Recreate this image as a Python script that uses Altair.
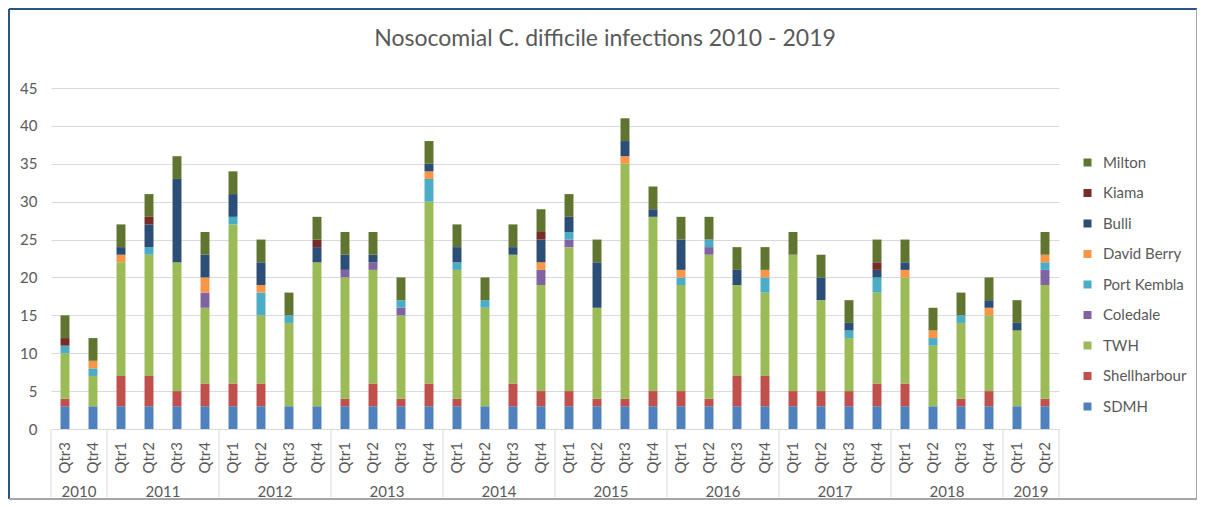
import altair as alt
import pandas as pd

# ---- categories ----
bar_years = ["2010", "2010",
             "2011", "2011", "2011", "2011",
             "2012", "2012", "2012", "2012",
             "2013", "2013", "2013", "2013",
             "2014", "2014", "2014", "2014",
             "2015", "2015", "2015", "2015",
             "2016", "2016", "2016", "2016",
             "2017", "2017", "2017", "2017",
             "2018", "2018", "2018", "2018",
             "2019", "2019"]
bar_quarters = ["Qtr3", "Qtr4",
                "Qtr1", "Qtr2", "Qtr3", "Qtr4",
                "Qtr1", "Qtr2", "Qtr3", "Qtr4",
                "Qtr1", "Qtr2", "Qtr3", "Qtr4",
                "Qtr1", "Qtr2", "Qtr3", "Qtr4",
                "Qtr1", "Qtr2", "Qtr3", "Qtr4",
                "Qtr1", "Qtr2", "Qtr3", "Qtr4",
                "Qtr1", "Qtr2", "Qtr3", "Qtr4",
                "Qtr1", "Qtr2", "Qtr3", "Qtr4",
                "Qtr1", "Qtr2"]

# ---- series (bottom to top of each stack) ----
SDMH =         [3, 3, 3, 3, 3, 3, 3, 3, 3, 3, 3, 3, 3, 3, 3, 3, 3, 3, 3, 3, 3, 3, 3, 3, 3, 3, 3, 3, 3, 3, 3, 3, 3, 3, 3, 3]
Shellharbour = [1, 0, 4, 4, 2, 3, 3, 3, 0, 0, 1, 3, 1, 3, 1, 0, 3, 2, 2, 1, 1, 2, 2, 1, 4, 4, 2, 2, 2, 3, 3, 0, 1, 2, 0, 1]
TWH =          [6, 4, 15, 16, 17, 10, 21, 9, 11, 19, 16, 15, 11, 24, 17, 13, 17, 14, 19, 12, 31, 23, 14, 19, 12, 11, 18, 12, 7, 12, 14, 8, 10, 10, 10, 15]
Coledale =     [0, 0, 0, 0, 0, 2, 0, 0, 0, 0, 1, 1, 1, 0, 0, 0, 0, 2, 1, 0, 0, 0, 0, 1, 0, 0, 0, 0, 0, 0, 0, 0, 0, 0, 0, 2]
PortKembla =   [1, 1, 0, 1, 0, 0, 1, 3, 1, 0, 0, 0, 1, 3, 1, 1, 0, 0, 1, 0, 0, 0, 1, 1, 0, 2, 0, 0, 1, 2, 0, 1, 1, 0, 0, 1]
DavidBerry =   [0, 1, 1, 0, 0, 2, 0, 1, 0, 0, 0, 0, 0, 1, 0, 0, 0, 1, 0, 0, 1, 0, 1, 0, 0, 1, 0, 0, 0, 0, 1, 1, 0, 1, 0, 1]
Bulli =        [0, 0, 1, 3, 11, 3, 3, 3, 0, 2, 2, 1, 0, 1, 2, 0, 1, 3, 2, 6, 2, 1, 4, 0, 2, 0, 0, 3, 1, 1, 1, 0, 0, 1, 1, 0]
Kiama =        [1, 0, 0, 1, 0, 0, 0, 0, 0, 1, 0, 0, 0, 0, 0, 0, 0, 1, 0, 0, 0, 0, 0, 0, 0, 0, 0, 0, 0, 1, 0, 0, 0, 0, 0, 0]
Milton =       [3, 3, 3, 3, 3, 3, 3, 3, 3, 3, 3, 3, 3, 3, 3, 3, 3, 3, 3, 3, 3, 3, 3, 3, 3, 3, 3, 3, 3, 3, 3, 3, 3, 3, 3, 3]

series_names = ["SDMH", "Shellharbour", "TWH", "Coledale", "Port Kembla",
                "David Berry", "Bulli", "Kiama", "Milton"]
series_values = [SDMH, Shellharbour, TWH, Coledale, PortKembla,
                 DavidBerry, Bulli, Kiama, Milton]
series_colors = ["#4F81BD", "#C0504D", "#9BBB59", "#8064A2", "#4BACC6",
                 "#F79646", "#2C4D75", "#772C2A", "#5F7530"]

# ---- tables built from the lists ----
rows = []
for order, (name, vals) in enumerate(zip(series_names, series_values)):
    for i, v in enumerate(vals):
        rows.append({"idx": i, "series": name, "order": order, "value": v})
df = pd.DataFrame(rows)

df_q = pd.DataFrame({"idx": list(range(len(bar_quarters))), "quarter": bar_quarters, "year": bar_years})

year_list = []
for y in bar_years:
    if y not in year_list:
        year_list.append(y)
df_y = pd.DataFrame({
    "year": year_list,
    "start": [bar_years.index(y) for y in year_list],
    "end": [len(bar_years) - bar_years[::-1].index(y) for y in year_list],
})
df_y["mid"] = (df_y["start"] + df_y["end"]) / 2
df_sep = pd.DataFrame({"b": sorted(set(df_y["start"].tolist() + df_y["end"].tolist()))})

W, H = 1008, 341
FONT = "Lato"
GREY = "#595959"
LINE = "#D9D9D9"

xscale = alt.Scale(domain=[0, len(bar_quarters)], nice=False, zero=False)
yscale = alt.Scale(domain=[0, 45], nice=False)

legend_order = series_names[::-1]
legend_colors = series_colors[::-1]

bars = (
    alt.Chart(df)
    .transform_filter("datum.value > 0")
    .transform_stack(stack="value", groupby=["idx"], as_=["y0", "y1"],
                     sort=[alt.SortField("order", "ascending")])
    .transform_calculate(xa="datum.idx + 0.34", xb="datum.idx + 0.66")
    .mark_bar()
    .encode(
        x=alt.X("xa:Q", scale=xscale,
                axis=alt.Axis(labels=False, ticks=False, grid=False, domain=True,
                              domainColor=LINE, domainWidth=1, title=None)),
        x2="xb:Q",
        y=alt.Y("y0:Q", scale=yscale,
                axis=alt.Axis(values=list(range(0, 50, 5)), grid=True, gridColor=LINE,
                              gridWidth=1, domain=False, ticks=False, labelPadding=14,
                              labelFont=FONT, labelFontSize=15, labelColor=GREY, title=None)),
        y2="y1:Q",
        color=alt.Color("series:N",
                        scale=alt.Scale(domain=legend_order, range=legend_colors),
                        legend=alt.Legend(title=None, orient="none", legendX=1029, legendY=67,
                                          symbolType="square", symbolSize=64,
                                          symbolStrokeWidth=0, labelFont=FONT,
                                          labelFontSize=15, labelColor=GREY,
                                          labelOffset=8, rowPadding=14.5, padding=0)),
    )
)

qlabels = (
    alt.Chart(df_q)
    .transform_calculate(xc="datum.idx + 0.5")
    .mark_text(angle=270, align="right", baseline="middle", font=FONT, fontSize=15, color=GREY)
    .encode(x=alt.X("xc:Q", scale=xscale), y=alt.value(H + 13), text="quarter:N")
)

ylabels = (
    alt.Chart(df_y)
    .mark_text(align="center", baseline="middle", font=FONT, fontSize=15, color=GREY)
    .encode(x=alt.X("mid:Q", scale=xscale), y=alt.value(H + 63), text="year:N")
)

seps = (
    alt.Chart(df_sep)
    .mark_rule(color=LINE, strokeWidth=1)
    .encode(x=alt.X("b:Q", scale=xscale), y=alt.value(H), y2=alt.value(H + 68))
)

one = pd.DataFrame({"f": [0]})
L, T, R, B = -42, -79, 1146, H + 70
frame_top = alt.Chart(one).mark_rule(color="#2B5585", strokeWidth=2).encode(
    x=alt.value(L), x2=alt.value(R), y=alt.value(T))
frame_left = alt.Chart(one).mark_rule(color="#2B5585", strokeWidth=2).encode(
    x=alt.value(L), y=alt.value(T), y2=alt.value(B))
frame_right = alt.Chart(one).mark_rule(color="#A6A6A6", strokeWidth=2).encode(
    x=alt.value(R), y=alt.value(T), y2=alt.value(B))
frame_bottom = alt.Chart(one).mark_rule(color="#A6A6A6", strokeWidth=2).encode(
    x=alt.value(L), x2=alt.value(R), y=alt.value(B))

chart = (
    alt.layer(seps, bars, qlabels, ylabels, frame_top, frame_left, frame_right, frame_bottom)
    .properties(
        width=W, height=H,
        title=alt.TitleParams("Nosocomial C. difficile infections 2010 - 2019",
                              font=FONT, fontSize=23, fontWeight="normal", color=GREY,
                              anchor="middle", dx=50, baseline="alphabetic", offset=-61),
        autosize=alt.AutoSizeParams(type="none"),
        padding={"left": 43, "top": 80, "right": 138, "bottom": 71},
        background="white",
    )
    .configure_view(stroke=None)
)

chart.save("out.html", embed_options={"renderer": "svg", "actions": False})
